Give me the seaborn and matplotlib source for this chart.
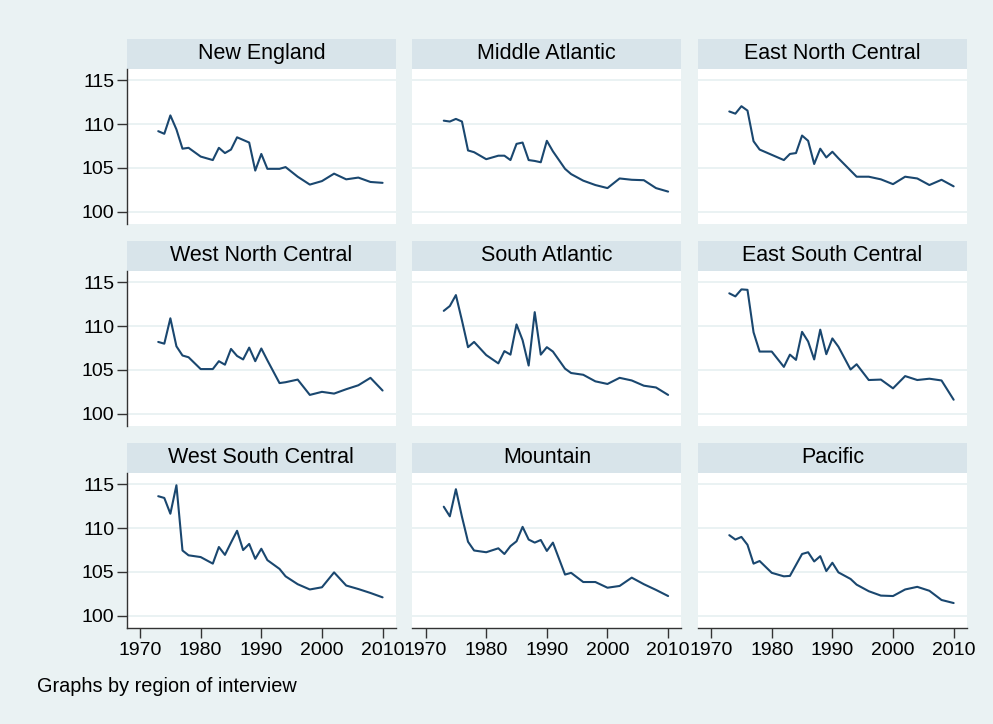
import pandas as pd
import seaborn as sns
import matplotlib.pyplot as plt
from matplotlib.patches import Rectangle

# survey years (no 1979, 1981, 1992, 1995, ...)
years = [1973, 1974, 1975, 1976, 1977, 1978, 1980, 1982, 1983, 1984, 1985,
         1986, 1987, 1988, 1989, 1990, 1991, 1993, 1994, 1996, 1998, 2000,
         2002, 2004, 2006, 2008, 2010]

regions = ['New England', 'Middle Atlantic', 'East North Central',
           'West North Central', 'South Atlantic', 'East South Central',
           'West South Central', 'Mountain', 'Pacific']

new_england = [109.2, 108.9, 111.0, 109.4, 107.2, 107.3, 106.3, 105.9, 107.3,
               106.7, 107.1, 108.5, 108.2, 107.9, 104.7, 106.6, 104.9, 104.9,
               105.1, 104.0, 103.1, 103.5, 104.35, 103.7, 103.9, 103.4, 103.3]
middle_atlantic = [110.4, 110.3, 110.6, 110.3, 107.0, 106.8, 106.0, 106.4, 106.4,
                   105.9, 107.75, 107.9, 105.9, 105.8, 105.65, 108.1, 106.9, 104.9,
                   104.3, 103.55, 103.05, 102.7, 103.8, 103.65, 103.6, 102.7, 102.3]
east_north_central = [111.45, 111.2, 112.05, 111.55, 108.05, 107.1, 106.5, 105.9, 106.6,
                      106.7, 108.7, 108.1, 105.45, 107.2, 106.2, 106.85, 106.1, 104.7,
                      104.0, 104.0, 103.7, 103.15, 104.0, 103.8, 103.05, 103.65, 102.9]
west_north_central = [108.2, 108.0, 110.9, 107.7, 106.65, 106.45, 105.1, 105.1, 106.0,
                      105.6, 107.4, 106.6, 106.2, 107.55, 106.0, 107.45, 106.1, 103.5,
                      103.6, 103.9, 102.15, 102.5, 102.3, 102.8, 103.25, 104.1, 102.65]
south_atlantic = [111.75, 112.3, 113.55, 110.65, 107.6, 108.2, 106.7, 105.75, 107.15,
                  106.75, 110.2, 108.4, 105.5, 111.6, 106.75, 107.6, 107.1, 105.15,
                  104.65, 104.45, 103.7, 103.4, 104.1, 103.8, 103.2, 103.0, 102.15]
east_south_central = [113.75, 113.4, 114.2, 114.15, 109.3, 107.1, 107.1, 105.35, 106.75,
                      106.15, 109.35, 108.25, 106.2, 109.6, 106.8, 108.6, 107.65, 105.05,
                      105.65, 103.85, 103.9, 102.9, 104.3, 103.85, 104.0, 103.8, 101.6]
west_south_central = [113.65, 113.45, 111.65, 114.9, 107.45, 106.9, 106.7, 105.95, 107.85,
                      106.95, 108.35, 109.7, 107.5, 108.2, 106.5, 107.65, 106.35, 105.35,
                      104.5, 103.6, 103.0, 103.25, 104.95, 103.45, 103.05, 102.6, 102.1]
mountain = [112.45, 111.35, 114.45, 111.3, 108.45, 107.45, 107.25, 107.7, 107.05,
            107.95, 108.5, 110.15, 108.7, 108.35, 108.65, 107.4, 108.35, 104.7,
            104.9, 103.85, 103.85, 103.2, 103.4, 104.35, 103.6, 102.95, 102.25]
pacific = [109.2, 108.7, 109.0, 108.1, 105.95, 106.25, 104.9, 104.5, 104.55,
           105.8, 107.05, 107.25, 106.2, 106.8, 105.1, 106.05, 104.95, 104.2,
           103.55, 102.8, 102.3, 102.25, 103.0, 103.3, 102.85, 101.8, 101.45]

series = [new_england, middle_atlantic, east_north_central,
          west_north_central, south_atlantic, east_south_central,
          west_south_central, mountain, pacific]

xticks = [1970, 1980, 1990, 2000, 2010]
yticks = [100, 105, 110, 115]

df = pd.concat([pd.DataFrame({'region': r, 'year': years, 'value': v})
                for r, v in zip(regions, series)], ignore_index=True)

bg = '#EAF2F3'
strip = '#D8E4EA'
navy = '#1A476F'

sns.set_theme(style='white')
plt.rcParams['font.family'] = ['Liberation Sans', 'DejaVu Sans']

g = sns.relplot(data=df, x='year', y='value', col='region', col_order=regions,
                col_wrap=3, kind='line', color=navy, linewidth=1.5,
                height=2, aspect=1.7)
fig = g.figure
fig.set_size_inches(9.93, 7.24)
fig.patch.set_facecolor(bg)
fig.subplots_adjust(left=0.1276, right=0.9738, top=0.9047, bottom=0.1326,
                    wspace=0.0606, hspace=0.3032)

g.set_axis_labels('', '')
g.set(xticks=xticks, yticks=yticks, xlim=(1967.8, 2012.2), ylim=(98.6, 116.3))

strip_h = 30 / 155
for i, (ax, name) in enumerate(zip(g.axes.flat, regions)):
    ax.set_title('')
    ax.set_facecolor('white')
    ax.yaxis.grid(True, color=bg, linewidth=1.4)
    ax.xaxis.grid(False)
    ax.set_axisbelow(True)
    for s in ax.spines.values():
        s.set_visible(False)
    left_col = i % 3 == 0
    bottom_row = i >= 6
    ax.spines['left'].set_visible(left_col)
    ax.spines['bottom'].set_visible(bottom_row)
    for side in ['left', 'bottom']:
        ax.spines[side].set_color('#333333')
        ax.spines[side].set_linewidth(1.0)
    ax.tick_params(axis='y', length=7 if left_col else 0, width=1,
                   color='#333333', labelsize=14, labelcolor='black', pad=2,
                   left=left_col, labelleft=left_col)
    ax.tick_params(axis='x', length=7 if bottom_row else 0, width=1,
                   color='#333333', labelsize=14, labelcolor='black', pad=3,
                   bottom=bottom_row, labelbottom=bottom_row)
    ax.add_patch(Rectangle((0, 1), 1, strip_h, transform=ax.transAxes,
                           facecolor=strip, edgecolor='none', clip_on=False))
    ax.text(0.5, 1 + strip_h / 2, name, transform=ax.transAxes,
            ha='center', va='center', fontsize=15.5, color='black')

fig.text(37 / 993, 1 - 687 / 724, 'Graphs by region of interview',
         ha='left', va='center', fontsize=14.3, color='black')

fig.savefig('out.png', dpi=100, facecolor=bg)
